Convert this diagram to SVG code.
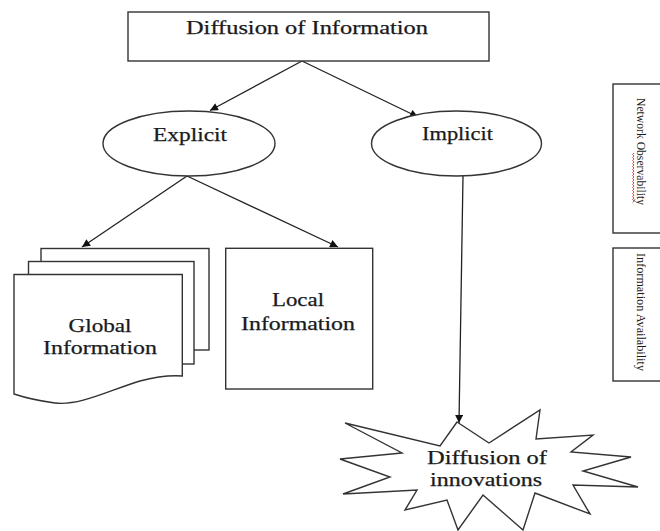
<svg xmlns="http://www.w3.org/2000/svg" width="660" height="531" viewBox="0 0 660 531">
  <defs>
    <marker id="arrow" viewBox="0 0 10 10" refX="10" refY="5" markerWidth="10" markerHeight="8" markerUnits="userSpaceOnUse" orient="auto">
      <path d="M0,0 L10,5 L0,10 z" fill="#111"/>
    </marker>
    <style>
      .shape { fill: #fff; stroke: #333; stroke-width: 1.4; }
      .label { font-family: "Liberation Serif", "Times New Roman", serif; font-size: 19px; fill: #1a1a1a; stroke: #1a1a1a; stroke-width: 0.25; }
      .side { font-family: "Liberation Serif", "Times New Roman", serif; font-size: 13px; fill: #1a1a1a; }
      .edge { fill: none; stroke: #222; stroke-width: 1.3; marker-end: url(#arrow); }
    </style>
  </defs>

  <rect width="660" height="531" fill="#fff"/>

  <!-- connectors -->
  <g id="connectors">
    <line class="edge" x1="302" y1="61" x2="210" y2="110.5"/>
    <line class="edge" x1="302" y1="61" x2="418" y2="117"/>
    <line class="edge" x1="187" y1="176" x2="82" y2="247"/>
    <line class="edge" x1="187" y1="176" x2="338" y2="247"/>
    <line class="edge" x1="463" y1="176" x2="459" y2="423"/>
  </g>

  <!-- top node -->
  <g id="diffusion-of-information">
    <rect class="shape" x="128" y="12" width="361" height="49"/>
    <text class="label" x="186" y="34" textLength="242" lengthAdjust="spacingAndGlyphs">Diffusion of Information</text>
  </g>

  <g id="explicit">
    <ellipse class="shape" cx="189" cy="143.5" rx="86" ry="32.5"/>
    <text class="label" x="153" y="141" textLength="74" lengthAdjust="spacingAndGlyphs">Explicit</text>
  </g>

  <g id="implicit">
    <ellipse class="shape" cx="456.5" cy="143.5" rx="85" ry="32.5"/>
    <text class="label" x="422" y="140" textLength="71" lengthAdjust="spacingAndGlyphs">Implicit</text>
  </g>

  <!-- stacked documents -->
  <g id="global-information">
    <rect class="shape" x="41" y="248.5" width="168" height="101.5"/>
    <rect class="shape" x="28.5" y="261.5" width="165.5" height="102.5"/>
    <path class="shape" d="M14,274.5 H182.3 V376 C168,375 155,377 140,381 C110,390 80,406 55,403 C40,401 26,398 14,394 Z"/>
    <text class="label" x="68.5" y="332" textLength="63" lengthAdjust="spacingAndGlyphs">Global</text>
    <text class="label" x="43" y="354" textLength="114" lengthAdjust="spacingAndGlyphs">Information</text>
  </g>

  <g id="local-information">
    <rect class="shape" x="225.7" y="248.3" width="147" height="140.7"/>
    <text class="label" x="272" y="306" textLength="52" lengthAdjust="spacingAndGlyphs">Local</text>
    <text class="label" x="241" y="330" textLength="114" lengthAdjust="spacingAndGlyphs">Information</text>
  </g>

  <g id="diffusion-of-innovations">
    <polygon class="shape" points="457,422 489,443 540,410 536,439 593,435 571,452 631,457 583,471 638,487 573,485 590,514 535,493 523,530 483,495 458,530 447,500 405,510 417,490 343,494 390,477 340,459 402,453 345,423 440,446"/>
    <text class="label" x="427" y="464" textLength="120" lengthAdjust="spacingAndGlyphs">Diffusion of</text>
    <text class="label" x="430" y="486" textLength="112" lengthAdjust="spacingAndGlyphs">innovations</text>
  </g>

  <!-- side panels with vertical labels -->
  <g id="network-observability">
    <rect class="shape" x="613" y="84" width="60" height="149"/>
    <text class="side" transform="translate(637,98) rotate(90)" textLength="107" lengthAdjust="spacingAndGlyphs">Network Observability</text>
    <path d="M634,153 l-1.4,1.5 l1.4,1.5 l-1.4,1.5 l1.4,1.5 l-1.4,1.5 l1.4,1.5 l-1.4,1.5 l1.4,1.5 l-1.4,1.5 l1.4,1.5 l-1.4,1.5 l1.4,1.5 l-1.4,1.5 l1.4,1.5 l-1.4,1.5 l1.4,1.5 l-1.4,1.5 l1.4,1.5 l-1.4,1.5 l1.4,1.5 l-1.4,1.5 l1.4,1.5 l-1.4,1.5 l1.4,1.5 l-1.4,1.5 l1.4,1.5 l-1.4,1.5 l1.4,1.5 l-1.4,1.5 l1.4,1.5 l-1.4,1.5 l1.4,1.5 l-1.4,1.5" fill="none" stroke="#e03030" stroke-width="0.9"/>
  </g>

  <g id="information-availability">
    <rect class="shape" x="613" y="248" width="60" height="133"/>
    <text class="side" transform="translate(637,253) rotate(90)" textLength="118" lengthAdjust="spacingAndGlyphs">Information Availability</text>
  </g>
</svg>
